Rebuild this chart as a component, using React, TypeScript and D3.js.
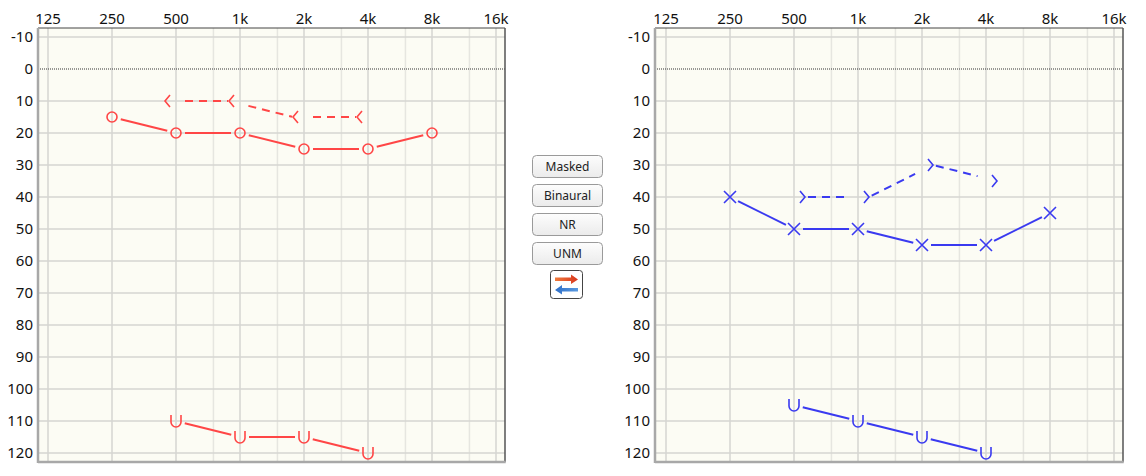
import React from "react";
import * as d3 from "d3";

const freqs = [125, 250, 500, 1000, 2000, 4000, 8000, 16000];
const freqLabels = ["125", "250", "500", "1k", "2k", "4k", "8k", "16k"];
const halfOctaves = [750, 1500, 3000, 6000, 12000];
const dbTicks = [-10, 0, 10, 20, 30, 40, 50, 60, 70, 80, 90, 100, 110, 120];

// Right ear (red)
const rightACFreqs = [250, 500, 1000, 2000, 4000, 8000];
const rightACValues = [15, 20, 20, 25, 25, 20];
const rightBCFreqs = [500, 1000, 2000, 4000];
const rightBCValues = [10, 10, 15, 15];
const rightNRFreqs = [500, 1000, 2000, 4000];
const rightNRValues = [110, 115, 115, 120];

// Left ear (blue)
const leftACFreqs = [250, 500, 1000, 2000, 4000, 8000];
const leftACValues = [40, 50, 50, 55, 55, 45];
const leftBCFreqs = [500, 1000, 2000, 4000];
const leftBCValues = [40, 40, 30, 35];
const leftNRFreqs = [500, 1000, 2000, 4000];
const leftNRValues = [105, 110, 115, 120];

const buttons = ["Masked", "Binaural", "NR", "UNM"];

const RED = "#ff4646";
const BLUE = "#3a3af0";
const FONT = "'Noto Sans', 'DejaVu Sans', sans-serif";

type Pt = [number, number];

function trimSeg(a: Pt, b: Pt, t0: number, t1: number): [Pt, Pt] {
  const dx = b[0] - a[0];
  const dy = b[1] - a[1];
  const L = Math.hypot(dx, dy) || 1;
  const ux = dx / L;
  const uy = dy / L;
  return [
    [a[0] + ux * t0, a[1] + uy * t0],
    [b[0] - ux * t1, b[1] - uy * t1],
  ];
}

function Segments({ pts, t0, t1, color, dash }: { pts: Pt[]; t0: number; t1: number; color: string; dash?: string }) {
  const line = d3.line<Pt>();
  const segs = [] as React.ReactNode[];
  for (let i = 0; i < pts.length - 1; i++) {
    const s = trimSeg(pts[i], pts[i + 1], t0, t1);
    segs.push(
      <path key={i} d={line(s) || ""} stroke={color} strokeWidth={2} fill="none" strokeDasharray={dash} />
    );
  }
  return <g>{segs}</g>;
}

function Panel({
  x0, x1, r0, r1, ear,
}: { x0: number; x1: number; r0: number; r1: number; ear: "right" | "left" }) {
  const top = 28;
  const bottom = 462;
  const x = d3.scaleLog().base(2).domain([125, 16000]).range([r0, r1]);
  const y = d3.scaleLinear().domain([-10, 120]).range([37, 453]);
  const color = ear === "right" ? RED : BLUE;

  const acF = ear === "right" ? rightACFreqs : leftACFreqs;
  const acV = ear === "right" ? rightACValues : leftACValues;
  const bcF = ear === "right" ? rightBCFreqs : leftBCFreqs;
  const bcV = ear === "right" ? rightBCValues : leftBCValues;
  const nrF = ear === "right" ? rightNRFreqs : leftNRFreqs;
  const nrV = ear === "right" ? rightNRValues : leftNRValues;

  const acPts: Pt[] = acF.map((f, i) => [x(f), y(acV[i])]);
  const bcOff = ear === "right" ? -11 : 11;
  const bcPts: Pt[] = bcF.map((f, i) => [x(f) + bcOff, y(bcV[i])]);
  const nrPts: Pt[] = nrF.map((f, i) => [x(f), y(nrV[i])]);

  return (
    <g>
      <rect x={x0} y={top} width={x1 - x0} height={bottom - top} fill="#fcfcf4" />
      {halfOctaves.map((f) => (
        <line key={"h" + f} x1={x(f)} x2={x(f)} y1={top} y2={bottom} stroke="#e6e6e0" strokeWidth={1.5} />
      ))}
      {freqs.map((f) => (
        <line key={"f" + f} x1={x(f)} x2={x(f)} y1={top} y2={bottom} stroke="#d6d6d2" strokeWidth={1.5} />
      ))}
      {dbTicks.filter((d) => d !== 0).map((d) => (
        <line key={"d" + d} x1={x0} x2={x1} y1={y(d)} y2={y(d)} stroke="#d6d6d2" strokeWidth={1.5} />
      ))}
      <line x1={x0} x2={x1} y1={y(0)} y2={y(0)} stroke="#333" strokeWidth={1} strokeDasharray="1,1" />
      {/* borders */}
      <line x1={x0} x2={x1} y1={top} y2={top} stroke="#444" strokeWidth={1} />
      <line x1={x1} x2={x1} y1={top} y2={bottom} stroke="#555" strokeWidth={1.5} />
      <line x1={x0} x2={x0} y1={top} y2={bottom + 1} stroke="#a8a8a8" strokeWidth={2.5} />
      <line x1={x0} x2={x1 + 0.75} y1={bottom} y2={bottom} stroke="#a8a8a8" strokeWidth={2.5} />

      {freqs.map((f, i) => (
        <text key={"t" + f} x={x(f)} y={24} textAnchor="middle" fontSize={15} fontFamily={FONT} fill="#111">
          {freqLabels[i]}
        </text>
      ))}
      {dbTicks.map((d) => (
        <text key={"y" + d} x={x0 - 5} y={y(d)} dy="0.35em" textAnchor="end" fontSize={15} fontFamily={FONT} fill="#111">
          {d}
        </text>
      ))}

      {/* air conduction */}
      <Segments pts={acPts} t0={9} t1={9} color={color} />
      {acPts.map((p, i) =>
        ear === "right" ? (
          <circle key={"c" + i} cx={p[0]} cy={p[1]} r={5} fill="none" stroke={color} strokeWidth={1.6} />
        ) : (
          <path key={"c" + i} d={`M${p[0] - 6},${p[1] - 6}L${p[0] + 6},${p[1] + 6}M${p[0] - 6},${p[1] + 6}L${p[0] + 6},${p[1] - 6}`} stroke={color} strokeWidth={1.6} fill="none" />
        )
      )}

      {/* bone conduction */}
      <Segments pts={bcPts} t0={ear === "right" ? 20 : 3} t1={ear === "right" ? 1 : 20} color={color} dash="8,6" />
      {bcPts.map((p, i) => {
        const w = ear === "right" ? 5 : -5;
        return (
          <path key={"b" + i} d={`M${p[0] + w},${p[1] - 6}L${p[0]},${p[1]}L${p[0] + w},${p[1] + 6}`} stroke={color} strokeWidth={1.6} fill="none" />
        );
      })}

      {/* no response */}
      <Segments pts={nrPts} t0={9} t1={9} color={color} />
      {nrPts.map((p, i) => (
        <path key={"n" + i} d={`M${p[0] - 5},${p[1] - 6}L${p[0] - 5},${p[1] + 1}A5,5 0 0 0 ${p[0] + 5},${p[1] + 1}L${p[0] + 5},${p[1] - 6}`} stroke={color} strokeWidth={1.6} fill="none" />
      ))}
    </g>
  );
}

export default function App() {
  const btnY = [155, 184, 213, 242];
  return (
    <svg width={1146} height={476} style={{ position: "absolute", left: 0, top: 0, background: "#fff" }}>
      <defs>
        <linearGradient id="btnGrad" x1="0" y1="0" x2="0" y2="1">
          <stop offset="0" stopColor="#fdfdfd" />
          <stop offset="1" stopColor="#ebebeb" />
        </linearGradient>
        <linearGradient id="redArrow" x1="0" y1="0" x2="1" y2="0">
          <stop offset="0" stopColor="#f07a3a" />
          <stop offset="1" stopColor="#d8361e" />
        </linearGradient>
        <linearGradient id="blueArrow" x1="0" y1="0" x2="1" y2="0">
          <stop offset="0" stopColor="#2f6fc8" />
          <stop offset="1" stopColor="#5a9ae0" />
        </linearGradient>
      </defs>
      <rect x={0} y={0} width={1146} height={476} fill="#fff" />
      <Panel x0={38} x1={505} r0={48} r1={496} ear="right" />
      <Panel x0={655} x1={1123} r0={666} r1={1114} ear="left" />

      {buttons.map((b, i) => (
        <g key={b}>
          <rect x={532.5} y={btnY[i] + 0.5} width={70} height={22} rx={4} fill="url(#btnGrad)" stroke="#9a9a9a" strokeWidth={1} />
          <text x={567.5} y={btnY[i] + 12} dy="0.35em" textAnchor="middle" fontSize={12} fontFamily={FONT} fill="#222">
            {b}
          </text>
        </g>
      ))}
      <rect x={550.5} y={270.5} width={32} height={28} rx={3} fill="#fff" stroke="#444" strokeWidth={1} />
      <path d="M555,277.5 L571,277.5 L571,274.5 L578,279.5 L571,284 L571,281 L555,281 Z" fill="url(#redArrow)" />
      <path d="M578,288 L562,288 L562,285 L555,290 L562,294.5 L562,291.5 L578,291.5 Z" fill="url(#blueArrow)" />
    </svg>
  );
}
